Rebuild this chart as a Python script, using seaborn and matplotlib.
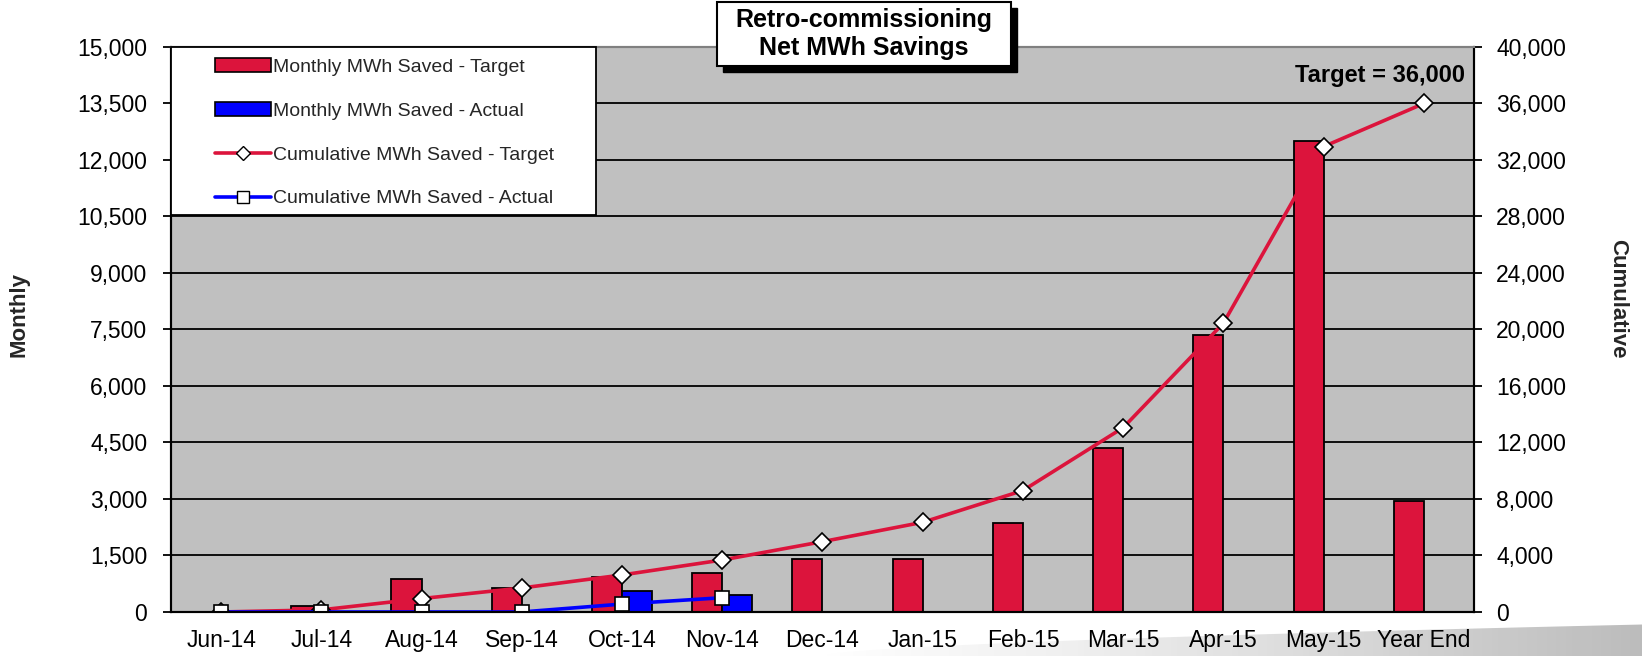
import numpy as np
import pandas as pd
import matplotlib
matplotlib.use("Agg")
import matplotlib.pyplot as plt
from matplotlib.patches import Patch, Polygon, Rectangle
from matplotlib.lines import Line2D
from matplotlib.ticker import FuncFormatter, MultipleLocator
import seaborn as sns

# data
months = ["Jun-14", "Jul-14", "Aug-14", "Sep-14", "Oct-14", "Nov-14", "Dec-14",
          "Jan-15", "Feb-15", "Mar-15", "Apr-15", "May-15", "Year End"]
monthly_target = [0, 150, 875, 625, 925, 1025, 1400, 1400, 2350, 4350, 7350, 12500, 2950]
monthly_actual = [0, 0, 0, 0, 560, 450]          # reported months only
cum_target = [0, 150, 950, 1700, 2620, 3680, 4980, 6350, 8600, 13050, 20450, 32950, 36000]
cum_actual = [0, 0, 0, 0, 560, 1010]

series_names = ["Monthly MWh Saved - Target", "Monthly MWh Saved - Actual",
                "Cumulative MWh Saved - Target", "Cumulative MWh Saved - Actual"]
target_note = "Target = 36,000"

RED = "#dc143c"
BLUE = "#0000ff"

sns.set_style("white")
plt.rcParams["font.family"] = ["Liberation Sans", "DejaVu Sans"]

df = pd.DataFrame({
    "month": months + months[:len(monthly_actual)],
    "value": monthly_target + monthly_actual,
    "series": [series_names[0]] * len(months) + [series_names[1]] * len(monthly_actual),
})

fig = plt.figure(figsize=(16.42, 6.56), dpi=100)

# grey swoosh in the lower right corner
deco = fig.add_axes([0, 0, 1, 1], zorder=-5)
deco.set_xlim(0, 1)
deco.set_ylim(0, 1)
deco.axis("off")
grad = np.linspace(0, 1, 256)[None, :] ** 0.9 * 0.38
img = deco.imshow(grad, extent=[0.5, 1, 0, 0.06], cmap="Greys", vmin=0, vmax=1,
                  aspect="auto", origin="lower")
xs = np.linspace(0.5, 1, 60)
ys = 0.048 * ((xs - 0.5) / 0.5) ** 0.6
clip = Polygon(np.column_stack([np.r_[xs, 1, 0.5], np.r_[ys, 0, 0]]), closed=True,
               transform=deco.transData, facecolor="none", edgecolor="none")
deco.add_patch(clip)
img.set_clip_path(clip)

ax = fig.add_axes([0.1041, 0.0671, 0.7936, 0.8613])
ax.set_facecolor("#c0c0c0")

sns.barplot(data=df, x="month", y="value", hue="series", order=months,
            hue_order=series_names[:2], palette=[RED, BLUE], width=0.6,
            saturation=1, errorbar=None, edgecolor="black", linewidth=1.3,
            legend=False, ax=ax)

ax.set_xlim(-0.5, len(months) - 0.5)
ax.set_ylim(0, 15000)
ax.yaxis.set_major_locator(MultipleLocator(1500))
ax.yaxis.set_major_formatter(FuncFormatter(lambda v, p: f"{v:,.0f}"))
ax.yaxis.grid(True, color="black", lw=1.3)
ax.set_axisbelow(True)
ax.set_xlabel("")
ax.set_ylabel("")
ax.set_xticks(range(len(months)))
ax.set_xticklabels(months)
ax.set_xticks(np.arange(-0.5, len(months)), minor=True)
ax.tick_params(axis="x", which="major", length=0, pad=12, labelsize=16.5, colors="black")
ax.tick_params(axis="x", which="minor", length=6, width=1.3, direction="out", color="black")
ax.tick_params(axis="y", length=6, width=1.3, direction="out", pad=11, labelsize=16.5,
               colors="black", left=True)

ax2 = ax.twinx()
sns.lineplot(x=np.arange(len(cum_target)), y=cum_target, ax=ax2, color=RED, lw=2.6,
             marker="D", markersize=9.5, markerfacecolor="white", markeredgecolor="black",
             markeredgewidth=1.2, estimator=None, sort=False)
sns.lineplot(x=np.arange(len(cum_actual)), y=cum_actual, ax=ax2, color=BLUE, lw=2.6,
             marker="s", markersize=10, markerfacecolor="white", markeredgecolor="black",
             markeredgewidth=1.2, estimator=None, sort=False)
ax2.set_ylim(0, 40000)
ax2.yaxis.set_major_locator(MultipleLocator(4000))
ax2.yaxis.set_major_formatter(FuncFormatter(lambda v, p: f"{v:,.0f}"))
ax2.set_ylabel("")
ax2.tick_params(axis="y", length=6, width=1.3, direction="out", pad=10, labelsize=16.5,
                colors="black", right=True)

for a in (ax, ax2):
    for side in ("left", "right", "bottom"):
        a.spines[side].set_color("black")
        a.spines[side].set_linewidth(1.5)
    a.spines["top"].set_color("#808080")
    a.spines["top"].set_linewidth(1.5)

ax2.text(0.993, 0.95, target_note, transform=ax2.transAxes, ha="right", va="center",
         fontsize=17, fontweight="bold", color="black")

# legend: white box flush with the top-left corner, entries indented
ax2.add_patch(Rectangle((0, 0.702), 0.3264, 0.298, transform=ax2.transAxes,
                        facecolor="white", edgecolor="black", lw=1.3, zorder=5,
                        clip_on=False))
handles = [
    Patch(facecolor=RED, edgecolor="black", lw=1.2),
    Patch(facecolor=BLUE, edgecolor="black", lw=1.2),
    Line2D([], [], color=RED, lw=2.6, marker="D", markersize=7, markerfacecolor="white",
           markeredgecolor="black"),
    Line2D([], [], color=BLUE, lw=2.6, marker="s", markersize=8, markerfacecolor="white",
           markeredgecolor="black"),
]
leg = ax2.legend(handles, series_names, loc="upper left", bbox_to_anchor=(0.0336, 0.98),
                 fontsize=14, frameon=False, handlelength=2.9, handletextpad=0.1,
                 labelspacing=1.35, borderpad=0, borderaxespad=0)
leg.set_zorder(6)

fig.text(19 / 1642, 0.521, "Monthly", rotation=90, ha="center", va="center",
         fontsize=16, fontweight="bold")
fig.text(1618 / 1642, 0.545, "Cumulative", rotation=270, ha="center", va="center",
         fontsize=16, fontweight="bold")

# title box with drop shadow
bx, by, bw, bh = 717 / 1642, 1 - 66 / 656, 294 / 1642, 64 / 656
fig.patches.append(Rectangle((bx + 6 / 1642, by - 6 / 656), bw, bh, transform=fig.transFigure,
                             facecolor="black", edgecolor="black", zorder=10))
fig.patches.append(Rectangle((bx, by), bw, bh, transform=fig.transFigure,
                             facecolor="white", edgecolor="black", lw=1.5, zorder=11))
fig.text(bx + bw / 2, by + bh / 2, "Retro-commissioning\nNet MWh Savings", ha="center",
         va="center", fontsize=18, fontweight="bold", color="black", linespacing=1.2,
         zorder=12)

fig.savefig("out.png", dpi=100)
